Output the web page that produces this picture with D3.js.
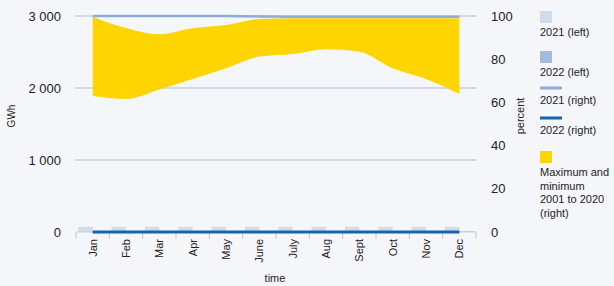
<!DOCTYPE html>
<html>
<head>
<meta charset="utf-8">
<script src="https://cdn.jsdelivr.net/npm/d3@7"></script>
<style>
  body { margin: 0; background: #f5f6fa; }
  svg { display: block; font-family: "Liberation Sans", Arial, sans-serif; }
  .grid line { stroke: #c4cedf; stroke-width: 1.5; }
  .axis text { fill: #222; }
</style>
</head>
<body>
<script>
var months = ["Jan", "Feb", "Mar", "Apr", "May", "June", "July", "Aug", "Sept", "Oct", "Nov", "Dec"];
var left2021 = [72, 72, 72, 72, 72, 72, 72, 72, 72, 72, 72, 72];
var left2022 = [10, 10, 10, 10, 10, 10, 10, 10, 10, 10, 10, 10];
var right2021 = [100, 100, 100, 100, 100, 99.8, 99.6, 99.6, 99.6, 99.6, 99.6, 99.6];
var right2022 = [0, 0, 0, 0, 0, 0, 0, 0, 0, 0, 0, 0];
var rangeMax = [99.7, 94.4, 91.5, 94.3, 95.8, 98.6, 99.0, 99.0, 99.0, 99.0, 99.0, 99.0];
var rangeMin = [63.0, 61.6, 66.0, 70.8, 75.8, 81.2, 82.4, 84.6, 83.5, 75.8, 70.8, 63.9];
var leftTicks = [0, 1000, 2000, 3000];
var rightTicks = [0, 20, 40, 60, 80, 100];

var W = 614, H = 286;
var margin = {top: 16, right: 138, bottom: 54, left: 76},
  width = W - margin.left - margin.right,
  height = H - margin.top - margin.bottom;

var svg = d3.select("body").append("svg")
  .attr("width", W)
  .attr("height", H);

var g = svg.append("g")
  .attr("transform", "translate(" + margin.left + "," + margin.top + ")");

var x = d3.scaleBand().domain(months).range([0, width]);
var yL = d3.scaleLinear().domain([0, 3000]).range([height, 0]);
var yR = d3.scaleLinear().domain([0, 100]).range([height, 0]);

var fmt = function (d) { return d3.format(",")(d).replace(/,/g, "\u2009"); };

// gridlines
g.append("g").attr("class", "grid")
  .selectAll("line")
  .data(leftTicks.filter(function (d) { return d > 0; }))
  .enter().append("line")
  .attr("x1", -1).attr("x2", width)
  .attr("y1", function (d) { return yL(d); })
  .attr("y2", function (d) { return yL(d); });

// left axis labels
g.append("g").attr("class", "axis")
  .attr("transform", "translate(-12,0)")
  .call(d3.axisLeft(yL).tickValues(leftTicks).tickFormat(function (d) { return d3.format(",")(d).replace(/,/g, " "); }).tickSize(0))
  .call(function (a) { a.select(".domain").remove(); })
  .selectAll("text").attr("font-size", 13).attr("fill", "#222");

// right axis labels
g.append("g").attr("class", "axis")
  .attr("transform", "translate(" + (width + 12) + ",0)")
  .call(d3.axisRight(yR).tickValues(rightTicks).tickSize(0))
  .call(function (a) { a.select(".domain").remove(); })
  .selectAll("text").attr("font-size", 13).attr("fill", "#222");

// bars
var bw = x.bandwidth();
g.append("g").selectAll("rect")
  .data(months)
  .enter().append("rect")
  .attr("x", function (d) { return x(d) + 2.3; })
  .attr("width", bw / 2 - 2.3)
  .attr("y", function (d, i) { return yL(left2021[i]); })
  .attr("height", function (d, i) { return height - yL(left2021[i]); })
  .attr("fill", "#d0dcec");

g.append("g").selectAll("rect")
  .data(months)
  .enter().append("rect")
  .attr("x", function (d) { return x(d) + bw / 2; })
  .attr("width", bw / 2 - 2.3)
  .attr("y", function (d, i) { return yL(left2022[i]); })
  .attr("height", function (d, i) { return height - yL(left2022[i]); })
  .attr("fill", "#a4bcdc");

// bottom axis
var xa = g.append("g").attr("class", "axis")
  .attr("transform", "translate(0," + height + ")")
  .call(d3.axisBottom(x).tickSize(0));
xa.select(".domain").attr("stroke", "#c8cfd9").attr("stroke-width", 1.2).attr("d", "M0,0H" + width);
xa.selectAll("text")
  .attr("font-size", 11)
  .attr("fill", "#222")
  .attr("transform", "rotate(-90)")
  .attr("text-anchor", "end")
  .attr("dy", "0.35em")
  .attr("x", -7)
  .attr("y", 0);
xa.selectAll(".tick").attr("transform", function (d) { return "translate(" + (x(d) + bw / 2) + ",0)"; });
g.append("g").selectAll("line")
  .data(months.concat(["end"]))
  .enter().append("line")
  .attr("x1", function (d, i) { return i * bw; })
  .attr("x2", function (d, i) { return i * bw; })
  .attr("y1", height).attr("y2", height + 7)
  .attr("stroke", "#c8cfd9").attr("stroke-width", 1.2);

// range area
var cx = function (d, i) { return x(months[i]) + bw / 2; };
var area = d3.area()
  .x(cx)
  .y0(function (d, i) { return yR(rangeMin[i]); })
  .y1(function (d, i) { return yR(rangeMax[i]); })
  .curve(d3.curveMonotoneX);
g.append("path")
  .datum(months)
  .attr("d", area)
  .attr("fill", "#ffd500");

// lines
var line = function (vals) {
  return d3.line().x(cx).y(function (d, i) { return yR(vals[i]); }).curve(d3.curveMonotoneX)(months);
};
g.append("path").attr("d", line(right2021))
  .attr("fill", "none").attr("stroke", "#8eaed6").attr("stroke-width", 2.5);
g.append("path").attr("d", line(right2022))
  .attr("fill", "none").attr("stroke", "#1565ae").attr("stroke-width", 3);

// axis titles
svg.append("text").text("GWh")
  .attr("transform", "translate(15," + (margin.top + height / 2 - 8) + ") rotate(-90)")
  .attr("text-anchor", "middle").attr("font-size", 10).attr("fill", "#222");
svg.append("text").text("percent")
  .attr("transform", "translate(524," + (margin.top + height / 2 - 8) + ") rotate(-90)")
  .attr("text-anchor", "middle").attr("font-size", 11).attr("fill", "#222");
svg.append("text").text("time")
  .attr("x", 275).attr("y", 282)
  .attr("text-anchor", "middle").attr("font-size", 11).attr("fill", "#222");

// legend
var lg = svg.append("g").attr("transform", "translate(540,0)").attr("font-size", 11).attr("fill", "#222");
var items = [
  {type: "rect", color: "#d0dcec", y: 11, lines: ["2021 (left)"]},
  {type: "rect", color: "#a4bcdc", y: 51, lines: ["2022 (left)"]},
  {type: "line", color: "#8eaed6", y: 88, lines: ["2021 (right)"]},
  {type: "line", color: "#1565ae", y: 118, lines: ["2022 (right)"]},
  {type: "rect", color: "#ffd500", y: 151, lines: ["Maximum and", "minimum", "2001 to 2020", "(right)"]}
];
items.forEach(function (it) {
  if (it.type === "rect") {
    lg.append("rect").attr("x", 0).attr("y", it.y).attr("width", 12).attr("height", 12).attr("fill", it.color);
  } else {
    lg.append("line").attr("x1", 0).attr("x2", 22).attr("y1", it.y).attr("y2", it.y)
      .attr("stroke", it.color).attr("stroke-width", 3);
  }
  var base = it.type === "rect" ? it.y + 25 : it.y + 16;
  var t = lg.append("text").attr("y", base);
  it.lines.forEach(function (l, k) {
    t.append("tspan").attr("x", 0).attr("y", base + k * 13.5).text(l);
  });
});
</script>
</body>
</html>
